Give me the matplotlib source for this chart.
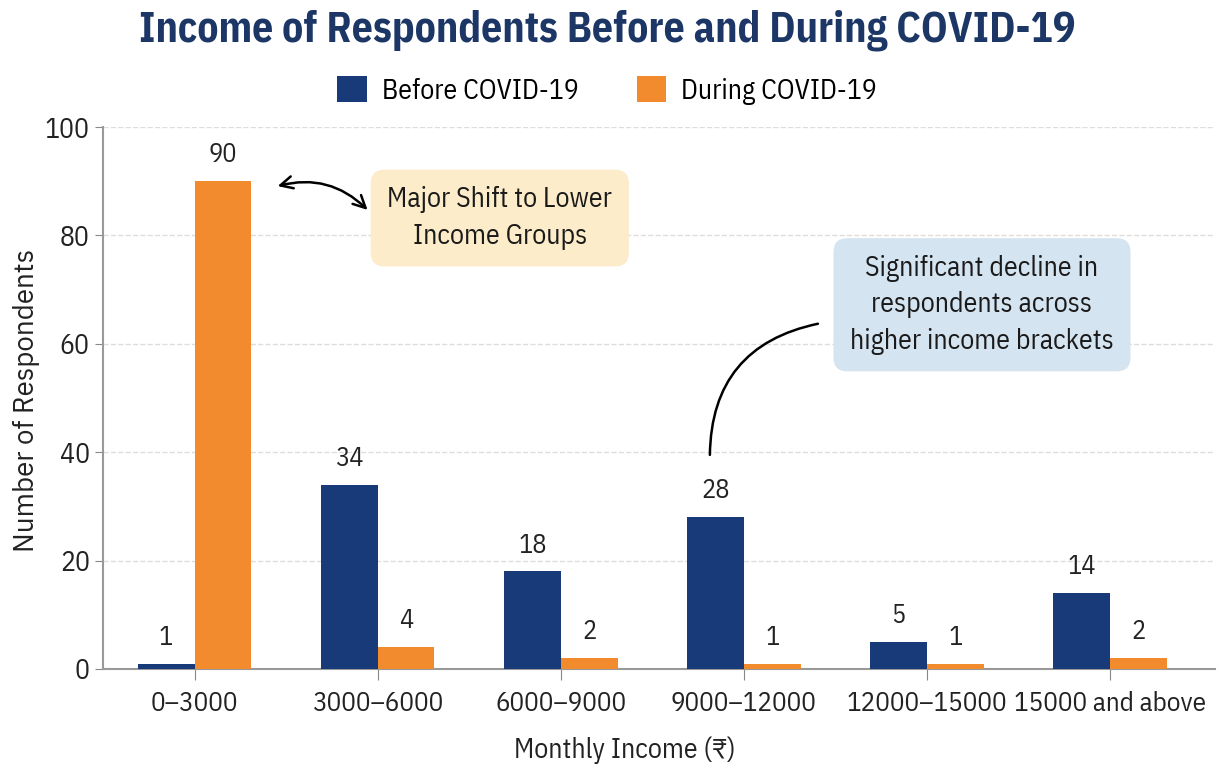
import matplotlib
matplotlib.use("Agg")
import matplotlib.pyplot as plt
import numpy as np

# income brackets and respondent counts
brackets = ["0–3000", "3000–6000", "6000–9000", "9000–12000", "12000–15000", "15000 and above"]
before = [1, 34, 18, 28, 5, 14]
during = [90, 4, 2, 1, 1, 2]

navy = "#183a78"
orange = "#f28a2e"
cond = ["IBM Plex Sans Condensed", "DejaVu Sans"]
plt.rcParams["font.family"] = cond

fig = plt.figure(figsize=(12.17, 7.67), dpi=100)
ax = fig.add_axes([0.0846, 0.1278, 0.9134, 0.7066])

x = np.arange(len(brackets))
w = 0.31
b1 = ax.bar(x - w / 2, before, w, color=navy, label="Before COVID-19", zorder=3)
b2 = ax.bar(x + w / 2, during, w, color=orange, label="During COVID-19", zorder=3)

for bars, vals in ((b1, before), (b2, during)):
    for r, v in zip(bars, vals):
        ax.annotate(str(v), (r.get_x() + r.get_width() / 2, v), xytext=(0, 19),
                    textcoords="offset points", ha="center", va="center",
                    fontsize=19, color="#222222")

ax.set_xlim(-0.5, 5.57)
ax.set_ylim(0, 100)
ax.set_yticks([0, 20, 40, 60, 80, 100])
ax.set_xticks(x)
ax.set_xticklabels(brackets, fontsize=19.5, color="#222222")
ax.tick_params(axis="y", labelsize=20, colors="#888888", labelcolor="#222222", length=6)
ax.tick_params(axis="x", colors="#888888", labelcolor="#222222", length=8, pad=8)
ax.grid(axis="y", color="#dddddd", linestyle="--", linewidth=1, zorder=0)
for s in ("top", "right"):
    ax.spines[s].set_visible(False)
for s in ("left", "bottom"):
    ax.spines[s].set_color("#999999")
    ax.spines[s].set_linewidth(1.5)

ax.set_ylabel("Number of Respondents", fontsize=20, family=["IBM Plex Sans", "DejaVu Sans"],
              color="#222222")
ax.yaxis.set_label_coords(-0.057, 0.496)
ax.set_xlabel("Monthly Income (₹)", fontsize=20, color="#222222")
ax.xaxis.set_label_coords(0.469, -0.125)

fig.text(0.499, 0.961, "Income of Respondents Before and During COVID-19", ha="center", va="center",
         fontsize=30, fontweight="bold", color="#1c3766")
fig.legend(handles=[b1, b2], loc="center", bbox_to_anchor=(0.499, 0.882), ncol=2, frameon=False,
           fontsize=20, handlelength=1.05, handleheight=1.05, columnspacing=2.1, handletextpad=0.55)

# callout boxes
ax.text(1.667, 83.2, "Major Shift to Lower\nIncome Groups", ha="center", va="center", fontsize=20,
        color="#1a1a1a", linespacing=1.45, zorder=5,
        bbox=dict(boxstyle="round,pad=0.6,rounding_size=0.5", fc="#fcecc9", ec="none"))
ax.annotate("", xy=(0.454, 89.1), xytext=(0.945, 84.7),
            arrowprops=dict(arrowstyle="<->", color="black", lw=1.8, mutation_scale=22,
                            connectionstyle="arc3,rad=0.28", shrinkA=0, shrinkB=0))

ax.text(4.30, 67.2, "Significant decline in\nrespondents across\nhigher income brackets", ha="center",
        va="center", fontsize=20, color="#1a1a1a", linespacing=1.45, zorder=5,
        bbox=dict(boxstyle="round,pad=0.6,rounding_size=0.5", fc="#d5e4f1", ec="none"))
ax.annotate("", xy=(3.404, 63.7), xytext=(2.814, 39.5),
            arrowprops=dict(arrowstyle="-", color="black", lw=1.8,
                            connectionstyle="arc3,rad=-0.4", shrinkA=0, shrinkB=0))

fig.savefig("out.png", dpi=100)
